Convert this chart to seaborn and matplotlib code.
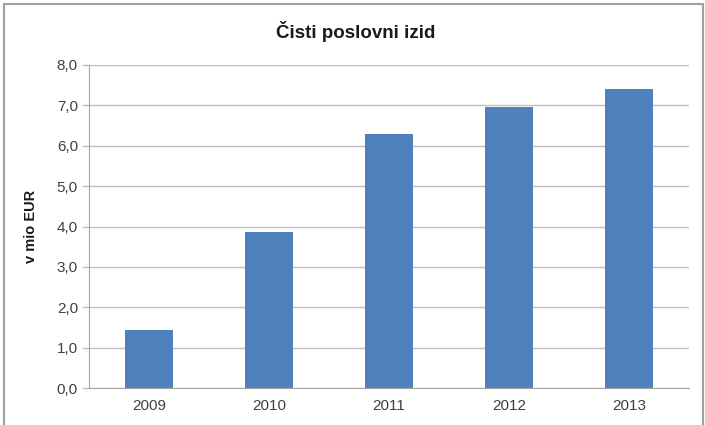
import matplotlib
matplotlib.use("Agg")
import matplotlib.pyplot as plt
import matplotlib.patches as patches
import seaborn as sns
import pandas as pd

# data
years = ["2009", "2010", "2011", "2012", "2013"]
values = [1.43, 3.86, 6.30, 6.95, 7.40]
y_ticks = [0, 1, 2, 3, 4, 5, 6, 7, 8]


def main():
    sns.set_style("white")
    plt.rcParams["font.family"] = ["Liberation Sans", "DejaVu Sans"]

    df = pd.DataFrame({"leto": years, "izid": values})

    fig = plt.figure(figsize=(7.05, 4.25), dpi=100)
    ax = fig.add_axes([89 / 705, 37 / 425, 600 / 705, 323 / 425])

    sns.barplot(data=df, x="leto", y="izid", color="#4F81BD", width=0.4,
                saturation=1, linewidth=0, ax=ax)

    ax.set_xlim(-0.5, 4.5)
    ax.set_ylim(0, 8)
    ax.set_yticks(y_ticks)
    ax.set_yticklabels([f"{t:.1f}".replace(".", ",") for t in y_ticks])
    ax.yaxis.grid(True, color="#BFBFBF", linewidth=1)
    ax.set_axisbelow(True)

    # x ticks sit between categories like in Excel
    ax.set_xticks([i - 0.5 for i in range(len(years) + 1)], minor=True)
    ax.tick_params(axis="x", which="major", length=0, pad=8,
                   labelsize=11, labelcolor="#404040")
    ax.tick_params(axis="x", which="minor", length=5, color="#A6A6A6",
                   width=1, direction="out")
    ax.tick_params(axis="y", length=5, color="#BFBFBF", width=1,
                   direction="out", labelsize=11, labelcolor="#404040",
                   pad=3)
    ax.tick_params(bottom=True, left=True)

    for side in ["top", "right"]:
        ax.spines[side].set_visible(False)
    ax.spines["left"].set_color("#A6A6A6")
    ax.spines["bottom"].set_color("#A6A6A6")

    ax.set_xlabel("")
    ax.set_ylabel("v mio EUR", fontsize=10.5, fontweight="bold",
                  color="#1A1A1A")
    ax.yaxis.set_label_coords(-0.085, 0.5)

    fig.text(356 / 705, 1 - 31 / 425, "Čisti poslovni izid", ha="center",
             va="center", fontsize=13.5, fontweight="bold", color="#1A1A1A")

    # outer chart frame
    frame = patches.Rectangle((4 / 705, -0.05), 699 / 705, 1 - 4 / 425 + 0.05,
                              transform=fig.transFigure, fill=False,
                              edgecolor="#A0A0A0", linewidth=1.5,
                              clip_on=False)
    fig.patches.append(frame)

    fig.savefig("out.png", dpi=100)


if __name__ == "__main__":
    main()
